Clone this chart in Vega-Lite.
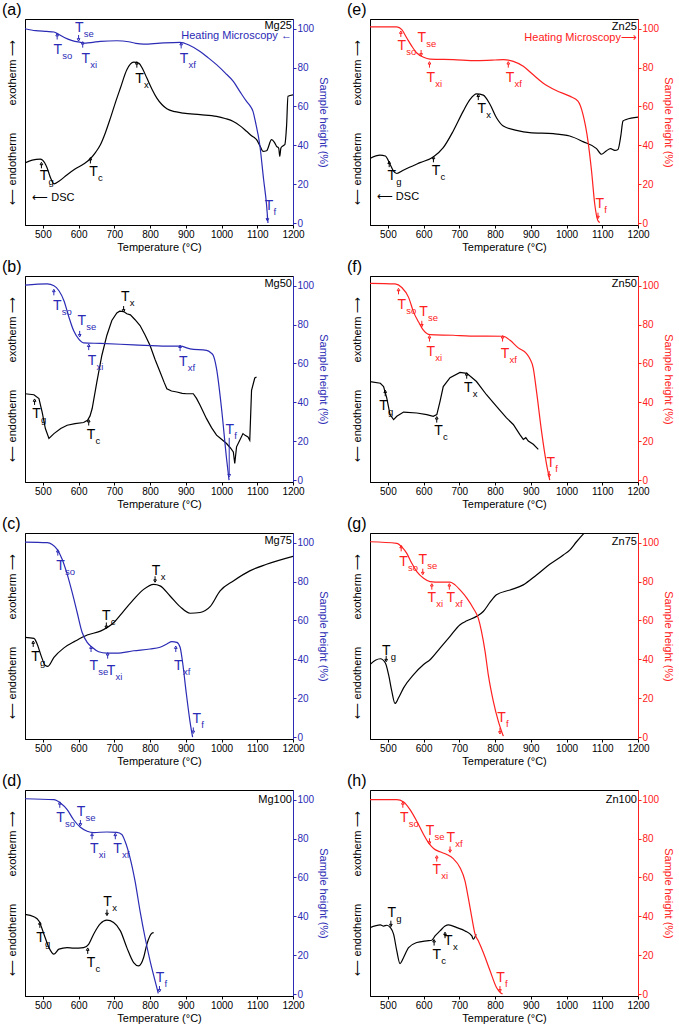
{
"$schema":"https://vega.github.io/schema/vega-lite/v6.json",
"background":"white",
"padding":{"left":1,"top":1,"right":0,"bottom":0},
"columns":2,
"spacing":{"row":5,"column":16},
"resolve":{"scale":{"color":"independent","shape":"independent"}},
"config":{
 "font":"Liberation Sans",
 "numberFormat":"d",
 "view":{"stroke":"black","strokeWidth":1},
 "axis":{"grid":false,"labelFont":"Liberation Sans","titleFont":"Liberation Sans","labelFontSize":10,"titleFontSize":11,"titleFontWeight":"normal","tickSize":3,"domainColor":"black","tickColor":"black","labelColor":"black","titleColor":"black","labelPadding":1,"labelOverlap":false,"labelFlush":false},
 "title":{"font":"Liberation Sans","color":"black"},
 "text":{"font":"Liberation Sans"}
},
"datasets":{
"curves":[
{"p":"a","s":"DSC","t":450,"v":30.9},{"p":"a","s":"DSC","t":470,"v":32.4},{"p":"a","s":"DSC","t":493,"v":32.9},{"p":"a","s":"DSC","t":505,"v":31},{"p":"a","s":"DSC","t":512,"v":28.3},{"p":"a","s":"DSC","t":522,"v":23},{"p":"a","s":"DSC","t":531,"v":20.2},{"p":"a","s":"DSC","t":545,"v":21.5},{"p":"a","s":"DSC","t":568,"v":24.9},{"p":"a","s":"DSC","t":590,"v":27.8},{"p":"a","s":"DSC","t":614,"v":30.4},{"p":"a","s":"DSC","t":633,"v":33.1},{"p":"a","s":"DSC","t":648,"v":36.5},{"p":"a","s":"DSC","t":661,"v":40.3},{"p":"a","s":"DSC","t":675,"v":46.5},{"p":"a","s":"DSC","t":689,"v":54},{"p":"a","s":"DSC","t":703,"v":62},{"p":"a","s":"DSC","t":717,"v":69.5},{"p":"a","s":"DSC","t":735,"v":78.9},{"p":"a","s":"DSC","t":754,"v":82.8},{"p":"a","s":"DSC","t":768,"v":82.3},{"p":"a","s":"DSC","t":780,"v":79},{"p":"a","s":"DSC","t":791,"v":74.6},{"p":"a","s":"DSC","t":805,"v":69},{"p":"a","s":"DSC","t":819,"v":64.3},{"p":"a","s":"DSC","t":833,"v":61},{"p":"a","s":"DSC","t":847,"v":58.8},{"p":"a","s":"DSC","t":870,"v":57.3},{"p":"a","s":"DSC","t":893,"v":56.6},{"p":"a","s":"DSC","t":940,"v":55.8},{"p":"a","s":"DSC","t":986,"v":54.9},{"p":"a","s":"DSC","t":1010,"v":53.8},{"p":"a","s":"DSC","t":1033,"v":52.3},{"p":"a","s":"DSC","t":1052,"v":50},{"p":"a","s":"DSC","t":1070,"v":47.2},{"p":"a","s":"DSC","t":1085,"v":44.8},{"p":"a","s":"DSC","t":1098,"v":42.9},{"p":"a","s":"DSC","t":1108,"v":39.5},{"p":"a","s":"DSC","t":1116,"v":36.9},{"p":"a","s":"DSC","t":1126,"v":37.2},{"p":"a","s":"DSC","t":1140,"v":42.9},{"p":"a","s":"DSC","t":1148,"v":41.5},{"p":"a","s":"DSC","t":1154,"v":39.5},{"p":"a","s":"DSC","t":1160,"v":38.5},{"p":"a","s":"DSC","t":1163,"v":34.3},{"p":"a","s":"DSC","t":1166,"v":38.5},{"p":"a","s":"DSC","t":1170,"v":39.5},{"p":"a","s":"DSC","t":1177,"v":40.3},{"p":"a","s":"DSC","t":1182,"v":50},{"p":"a","s":"DSC","t":1186,"v":65.2},{"p":"a","s":"DSC","t":1200,"v":66},
{"p":"a","s":"HM","t":450,"v":100},{"p":"a","s":"HM","t":480,"v":99},{"p":"a","s":"HM","t":510,"v":98.6},{"p":"a","s":"HM","t":531,"v":98.3},{"p":"a","s":"HM","t":545,"v":97},{"p":"a","s":"HM","t":560,"v":95.5},{"p":"a","s":"HM","t":580,"v":94},{"p":"a","s":"HM","t":605,"v":93},{"p":"a","s":"HM","t":620,"v":92.6},{"p":"a","s":"HM","t":640,"v":93},{"p":"a","s":"HM","t":661,"v":93.5},{"p":"a","s":"HM","t":707,"v":93.8},{"p":"a","s":"HM","t":740,"v":93.3},{"p":"a","s":"HM","t":760,"v":92.5},{"p":"a","s":"HM","t":782,"v":92.1},{"p":"a","s":"HM","t":828,"v":92.6},{"p":"a","s":"HM","t":884,"v":93},{"p":"a","s":"HM","t":910,"v":91.5},{"p":"a","s":"HM","t":940,"v":88.3},{"p":"a","s":"HM","t":963,"v":85},{"p":"a","s":"HM","t":986,"v":81.5},{"p":"a","s":"HM","t":1010,"v":77.3},{"p":"a","s":"HM","t":1033,"v":72.9},{"p":"a","s":"HM","t":1052,"v":67.5},{"p":"a","s":"HM","t":1070,"v":62.6},{"p":"a","s":"HM","t":1080,"v":60.3},{"p":"a","s":"HM","t":1088,"v":57.5},{"p":"a","s":"HM","t":1095,"v":52},{"p":"a","s":"HM","t":1107,"v":40.3},{"p":"a","s":"HM","t":1118,"v":22},{"p":"a","s":"HM","t":1126,"v":9.4},{"p":"a","s":"HM","t":1130,"v":0},
{"p":"e","s":"HM","t":450,"v":100.9},{"p":"e","s":"HM","t":525,"v":100.9},{"p":"e","s":"HM","t":539,"v":99.5},{"p":"e","s":"HM","t":553,"v":95.2},{"p":"e","s":"HM","t":567,"v":91},{"p":"e","s":"HM","t":581,"v":87.5},{"p":"e","s":"HM","t":600,"v":85.3},{"p":"e","s":"HM","t":618,"v":84.4},{"p":"e","s":"HM","t":683,"v":84.1},{"p":"e","s":"HM","t":748,"v":83.6},{"p":"e","s":"HM","t":800,"v":83.9},{"p":"e","s":"HM","t":823,"v":84.1},{"p":"e","s":"HM","t":851,"v":83.2},{"p":"e","s":"HM","t":879,"v":80.7},{"p":"e","s":"HM","t":906,"v":76.4},{"p":"e","s":"HM","t":934,"v":72.1},{"p":"e","s":"HM","t":971,"v":68.2},{"p":"e","s":"HM","t":1009,"v":65.3},{"p":"e","s":"HM","t":1032,"v":62.7},{"p":"e","s":"HM","t":1046,"v":55.9},{"p":"e","s":"HM","t":1060,"v":42.2},{"p":"e","s":"HM","t":1070,"v":26.8},{"p":"e","s":"HM","t":1079,"v":9.7},{"p":"e","s":"HM","t":1088,"v":1.2},{"p":"e","s":"HM","t":1093,"v":0.3},
{"p":"e","s":"DSC","t":450,"v":33.3},{"p":"e","s":"DSC","t":478,"v":35},{"p":"e","s":"DSC","t":493,"v":34.5},{"p":"e","s":"DSC","t":506,"v":30.3},{"p":"e","s":"DSC","t":515,"v":27},{"p":"e","s":"DSC","t":525,"v":25.5},{"p":"e","s":"DSC","t":543,"v":27.2},{"p":"e","s":"DSC","t":590,"v":31.1},{"p":"e","s":"DSC","t":627,"v":34},{"p":"e","s":"DSC","t":655,"v":38.8},{"p":"e","s":"DSC","t":683,"v":47.4},{"p":"e","s":"DSC","t":711,"v":57.6},{"p":"e","s":"DSC","t":730,"v":63.6},{"p":"e","s":"DSC","t":748,"v":66.5},{"p":"e","s":"DSC","t":767,"v":65.8},{"p":"e","s":"DSC","t":786,"v":61},{"p":"e","s":"DSC","t":804,"v":54.2},{"p":"e","s":"DSC","t":823,"v":49.9},{"p":"e","s":"DSC","t":860,"v":47.7},{"p":"e","s":"DSC","t":897,"v":46.5},{"p":"e","s":"DSC","t":963,"v":46},{"p":"e","s":"DSC","t":1009,"v":44.8},{"p":"e","s":"DSC","t":1046,"v":41.9},{"p":"e","s":"DSC","t":1084,"v":38.3},{"p":"e","s":"DSC","t":1098,"v":35.4},{"p":"e","s":"DSC","t":1111,"v":37.1},{"p":"e","s":"DSC","t":1123,"v":38.3},{"p":"e","s":"DSC","t":1135,"v":37.4},{"p":"e","s":"DSC","t":1144,"v":37.9},{"p":"e","s":"DSC","t":1152,"v":45},{"p":"e","s":"DSC","t":1158,"v":52.5},{"p":"e","s":"DSC","t":1167,"v":53.3},{"p":"e","s":"DSC","t":1200,"v":54.5},
{"p":"b","s":"HM","t":450,"v":100.3},{"p":"b","s":"HM","t":512,"v":100.9},{"p":"b","s":"HM","t":531,"v":100},{"p":"b","s":"HM","t":545,"v":97.4},{"p":"b","s":"HM","t":559,"v":92.3},{"p":"b","s":"HM","t":573,"v":83.8},{"p":"b","s":"HM","t":586,"v":76.9},{"p":"b","s":"HM","t":600,"v":72.6},{"p":"b","s":"HM","t":614,"v":70.6},{"p":"b","s":"HM","t":661,"v":70.3},{"p":"b","s":"HM","t":754,"v":69.6},{"p":"b","s":"HM","t":847,"v":68.9},{"p":"b","s":"HM","t":884,"v":68.9},{"p":"b","s":"HM","t":912,"v":67.5},{"p":"b","s":"HM","t":958,"v":66.7},{"p":"b","s":"HM","t":970,"v":65.5},{"p":"b","s":"HM","t":977,"v":64.1},{"p":"b","s":"HM","t":986,"v":57.3},{"p":"b","s":"HM","t":1000,"v":36.8},{"p":"b","s":"HM","t":1014,"v":11.1},{"p":"b","s":"HM","t":1021,"v":0},
{"p":"b","s":"DSC","t":450,"v":44.4},{"p":"b","s":"DSC","t":475,"v":43.9},{"p":"b","s":"DSC","t":489,"v":41.9},{"p":"b","s":"DSC","t":498,"v":35},{"p":"b","s":"DSC","t":507,"v":26.5},{"p":"b","s":"DSC","t":517,"v":21.4},{"p":"b","s":"DSC","t":531,"v":23.9},{"p":"b","s":"DSC","t":550,"v":26.5},{"p":"b","s":"DSC","t":568,"v":28.2},{"p":"b","s":"DSC","t":590,"v":29},{"p":"b","s":"DSC","t":614,"v":29.6},{"p":"b","s":"DSC","t":625,"v":30.8},{"p":"b","s":"DSC","t":632,"v":33},{"p":"b","s":"DSC","t":638,"v":36.8},{"p":"b","s":"DSC","t":651,"v":50.4},{"p":"b","s":"DSC","t":665,"v":64.1},{"p":"b","s":"DSC","t":679,"v":74.4},{"p":"b","s":"DSC","t":693,"v":82.1},{"p":"b","s":"DSC","t":707,"v":86},{"p":"b","s":"DSC","t":715,"v":86.9},{"p":"b","s":"DSC","t":726,"v":86.7},{"p":"b","s":"DSC","t":735,"v":85.6},{"p":"b","s":"DSC","t":745,"v":85},{"p":"b","s":"DSC","t":758,"v":82.5},{"p":"b","s":"DSC","t":772,"v":79.5},{"p":"b","s":"DSC","t":786,"v":74.6},{"p":"b","s":"DSC","t":800,"v":69.2},{"p":"b","s":"DSC","t":814,"v":62},{"p":"b","s":"DSC","t":828,"v":55.6},{"p":"b","s":"DSC","t":840,"v":50},{"p":"b","s":"DSC","t":847,"v":47},{"p":"b","s":"DSC","t":860,"v":45.8},{"p":"b","s":"DSC","t":875,"v":45.3},{"p":"b","s":"DSC","t":890,"v":44.6},{"p":"b","s":"DSC","t":902,"v":44.4},{"p":"b","s":"DSC","t":921,"v":44.4},{"p":"b","s":"DSC","t":930,"v":42},{"p":"b","s":"DSC","t":940,"v":38.5},{"p":"b","s":"DSC","t":958,"v":31.6},{"p":"b","s":"DSC","t":972,"v":27},{"p":"b","s":"DSC","t":986,"v":23.1},{"p":"b","s":"DSC","t":1000,"v":21},{"p":"b","s":"DSC","t":1014,"v":18.8},{"p":"b","s":"DSC","t":1025,"v":16.5},{"p":"b","s":"DSC","t":1033,"v":14.5},{"p":"b","s":"DSC","t":1037,"v":8.5},{"p":"b","s":"DSC","t":1042,"v":17.1},{"p":"b","s":"DSC","t":1051,"v":20.5},{"p":"b","s":"DSC","t":1060,"v":23.9},{"p":"b","s":"DSC","t":1066,"v":23},{"p":"b","s":"DSC","t":1074,"v":22.2},{"p":"b","s":"DSC","t":1079,"v":20.5},{"p":"b","s":"DSC","t":1084,"v":46.2},{"p":"b","s":"DSC","t":1093,"v":52.5},{"p":"b","s":"DSC","t":1098,"v":53},
{"p":"f","s":"HM","t":450,"v":101.2},{"p":"f","s":"HM","t":520,"v":100.9},{"p":"f","s":"HM","t":539,"v":99.1},{"p":"f","s":"HM","t":558,"v":94},{"p":"f","s":"HM","t":572,"v":86.4},{"p":"f","s":"HM","t":586,"v":81.3},{"p":"f","s":"HM","t":600,"v":77},{"p":"f","s":"HM","t":618,"v":74.8},{"p":"f","s":"HM","t":683,"v":74.5},{"p":"f","s":"HM","t":730,"v":74.1},{"p":"f","s":"HM","t":776,"v":74.1},{"p":"f","s":"HM","t":823,"v":74},{"p":"f","s":"HM","t":842,"v":71.9},{"p":"f","s":"HM","t":865,"v":68},{"p":"f","s":"HM","t":888,"v":65.1},{"p":"f","s":"HM","t":897,"v":62.6},{"p":"f","s":"HM","t":907,"v":57.5},{"p":"f","s":"HM","t":916,"v":45.6},{"p":"f","s":"HM","t":930,"v":25.2},{"p":"f","s":"HM","t":944,"v":8.2},{"p":"f","s":"HM","t":953,"v":0},
{"p":"f","s":"DSC","t":450,"v":50.7},{"p":"f","s":"DSC","t":479,"v":49.8},{"p":"f","s":"DSC","t":488,"v":48.1},{"p":"f","s":"DSC","t":497,"v":42.2},{"p":"f","s":"DSC","t":506,"v":33.7},{"p":"f","s":"DSC","t":516,"v":31.1},{"p":"f","s":"DSC","t":525,"v":32.8},{"p":"f","s":"DSC","t":544,"v":35},{"p":"f","s":"DSC","t":581,"v":34.5},{"p":"f","s":"DSC","t":609,"v":33.7},{"p":"f","s":"DSC","t":627,"v":32.8},{"p":"f","s":"DSC","t":637,"v":33.7},{"p":"f","s":"DSC","t":646,"v":40.5},{"p":"f","s":"DSC","t":655,"v":48.1},{"p":"f","s":"DSC","t":674,"v":52.7},{"p":"f","s":"DSC","t":702,"v":55.4},{"p":"f","s":"DSC","t":721,"v":54.9},{"p":"f","s":"DSC","t":748,"v":50.7},{"p":"f","s":"DSC","t":776,"v":43.9},{"p":"f","s":"DSC","t":804,"v":37.9},{"p":"f","s":"DSC","t":832,"v":32},{"p":"f","s":"DSC","t":851,"v":28.6},{"p":"f","s":"DSC","t":869,"v":23.5},{"p":"f","s":"DSC","t":879,"v":20.9},{"p":"f","s":"DSC","t":886,"v":21.8},{"p":"f","s":"DSC","t":893,"v":20.1},{"p":"f","s":"DSC","t":907,"v":18.4},{"p":"f","s":"DSC","t":921,"v":15.8},
{"p":"c","s":"HM","t":450,"v":100.3},{"p":"c","s":"HM","t":512,"v":100},{"p":"c","s":"HM","t":526,"v":99.1},{"p":"c","s":"HM","t":540,"v":96.6},{"p":"c","s":"HM","t":554,"v":91.5},{"p":"c","s":"HM","t":568,"v":83.8},{"p":"c","s":"HM","t":582,"v":74.4},{"p":"c","s":"HM","t":596,"v":64.1},{"p":"c","s":"HM","t":610,"v":53.8},{"p":"c","s":"HM","t":624,"v":48.7},{"p":"c","s":"HM","t":638,"v":46.2},{"p":"c","s":"HM","t":656,"v":43.9},{"p":"c","s":"HM","t":679,"v":43.2},{"p":"c","s":"HM","t":707,"v":43.2},{"p":"c","s":"HM","t":754,"v":44.4},{"p":"c","s":"HM","t":800,"v":45.3},{"p":"c","s":"HM","t":828,"v":46.2},{"p":"c","s":"HM","t":847,"v":47.9},{"p":"c","s":"HM","t":861,"v":49.1},{"p":"c","s":"HM","t":875,"v":48.7},{"p":"c","s":"HM","t":884,"v":46.2},{"p":"c","s":"HM","t":891,"v":38.5},{"p":"c","s":"HM","t":901,"v":23.1},{"p":"c","s":"HM","t":912,"v":7.7},{"p":"c","s":"HM","t":919,"v":0},
{"p":"c","s":"DSC","t":450,"v":51.3},{"p":"c","s":"DSC","t":475,"v":50.8},{"p":"c","s":"DSC","t":484,"v":47.9},{"p":"c","s":"DSC","t":495,"v":41.9},{"p":"c","s":"DSC","t":507,"v":36.8},{"p":"c","s":"DSC","t":514,"v":36.4},{"p":"c","s":"DSC","t":531,"v":41},{"p":"c","s":"DSC","t":559,"v":45.9},{"p":"c","s":"DSC","t":591,"v":49.4},{"p":"c","s":"DSC","t":624,"v":52.5},{"p":"c","s":"DSC","t":661,"v":54.5},{"p":"c","s":"DSC","t":698,"v":58.8},{"p":"c","s":"DSC","t":726,"v":64.8},{"p":"c","s":"DSC","t":754,"v":70.8},{"p":"c","s":"DSC","t":782,"v":76},{"p":"c","s":"DSC","t":810,"v":78.6},{"p":"c","s":"DSC","t":828,"v":77.8},{"p":"c","s":"DSC","t":856,"v":72.6},{"p":"c","s":"DSC","t":884,"v":67.1},{"p":"c","s":"DSC","t":912,"v":63.7},{"p":"c","s":"DSC","t":940,"v":64.1},{"p":"c","s":"DSC","t":968,"v":67.1},{"p":"c","s":"DSC","t":996,"v":75.2},{"p":"c","s":"DSC","t":1033,"v":80.3},{"p":"c","s":"DSC","t":1079,"v":85.5},{"p":"c","s":"DSC","t":1126,"v":88.9},{"p":"c","s":"DSC","t":1200,"v":93},
{"p":"g","s":"HM","t":450,"v":100.5},{"p":"g","s":"HM","t":525,"v":99.7},{"p":"g","s":"HM","t":539,"v":97.9},{"p":"g","s":"HM","t":553,"v":94.5},{"p":"g","s":"HM","t":567,"v":89.4},{"p":"g","s":"HM","t":581,"v":85.1},{"p":"g","s":"HM","t":600,"v":81.7},{"p":"g","s":"HM","t":618,"v":80},{"p":"g","s":"HM","t":646,"v":79.7},{"p":"g","s":"HM","t":674,"v":79.7},{"p":"g","s":"HM","t":688,"v":78.3},{"p":"g","s":"HM","t":702,"v":75.7},{"p":"g","s":"HM","t":721,"v":71.5},{"p":"g","s":"HM","t":739,"v":66.3},{"p":"g","s":"HM","t":753,"v":61.2},{"p":"g","s":"HM","t":762,"v":54.4},{"p":"g","s":"HM","t":772,"v":44.1},{"p":"g","s":"HM","t":781,"v":32.1},{"p":"g","s":"HM","t":795,"v":18.5},{"p":"g","s":"HM","t":809,"v":8.2},{"p":"g","s":"HM","t":823,"v":0.5},
{"p":"g","s":"DSC","t":450,"v":37.3},{"p":"g","s":"DSC","t":465,"v":39.5},{"p":"g","s":"DSC","t":479,"v":40.3},{"p":"g","s":"DSC","t":493,"v":38.1},{"p":"g","s":"DSC","t":502,"v":32.1},{"p":"g","s":"DSC","t":511,"v":23.6},{"p":"g","s":"DSC","t":520,"v":17.3},{"p":"g","s":"DSC","t":530,"v":20.2},{"p":"g","s":"DSC","t":544,"v":25.3},{"p":"g","s":"DSC","t":572,"v":32.1},{"p":"g","s":"DSC","t":600,"v":37.3},{"p":"g","s":"DSC","t":618,"v":39.8},{"p":"g","s":"DSC","t":646,"v":45.8},{"p":"g","s":"DSC","t":674,"v":51.8},{"p":"g","s":"DSC","t":702,"v":57.8},{"p":"g","s":"DSC","t":721,"v":59.8},{"p":"g","s":"DSC","t":748,"v":62.1},{"p":"g","s":"DSC","t":767,"v":64.6},{"p":"g","s":"DSC","t":786,"v":69.4},{"p":"g","s":"DSC","t":804,"v":73.2},{"p":"g","s":"DSC","t":842,"v":75.7},{"p":"g","s":"DSC","t":879,"v":78.3},{"p":"g","s":"DSC","t":916,"v":83.4},{"p":"g","s":"DSC","t":953,"v":88.9},{"p":"g","s":"DSC","t":991,"v":93.7},{"p":"g","s":"DSC","t":1009,"v":96.2},{"p":"g","s":"DSC","t":1028,"v":100.5},{"p":"g","s":"DSC","t":1046,"v":104.3},{"p":"g","s":"DSC","t":1060,"v":107},
{"p":"d","s":"HM","t":450,"v":100.5},{"p":"d","s":"HM","t":531,"v":100},{"p":"d","s":"HM","t":549,"v":98.3},{"p":"d","s":"HM","t":568,"v":94.9},{"p":"d","s":"HM","t":586,"v":89.7},{"p":"d","s":"HM","t":605,"v":85.8},{"p":"d","s":"HM","t":624,"v":83.8},{"p":"d","s":"HM","t":642,"v":83.1},{"p":"d","s":"HM","t":679,"v":83.4},{"p":"d","s":"HM","t":707,"v":83.2},{"p":"d","s":"HM","t":721,"v":82.1},{"p":"d","s":"HM","t":730,"v":78.6},{"p":"d","s":"HM","t":744,"v":70.1},{"p":"d","s":"HM","t":758,"v":58.1},{"p":"d","s":"HM","t":772,"v":42.7},{"p":"d","s":"HM","t":786,"v":29.1},{"p":"d","s":"HM","t":800,"v":17.1},{"p":"d","s":"HM","t":814,"v":6.8},{"p":"d","s":"HM","t":823,"v":0.3},
{"p":"d","s":"DSC","t":450,"v":41},{"p":"d","s":"DSC","t":475,"v":39.8},{"p":"d","s":"DSC","t":489,"v":37.6},{"p":"d","s":"DSC","t":503,"v":30.8},{"p":"d","s":"DSC","t":517,"v":23.9},{"p":"d","s":"DSC","t":531,"v":20.5},{"p":"d","s":"DSC","t":545,"v":23.1},{"p":"d","s":"DSC","t":568,"v":23.9},{"p":"d","s":"DSC","t":586,"v":23.6},{"p":"d","s":"DSC","t":614,"v":23.9},{"p":"d","s":"DSC","t":628,"v":25.6},{"p":"d","s":"DSC","t":642,"v":30.8},{"p":"d","s":"DSC","t":661,"v":36.2},{"p":"d","s":"DSC","t":679,"v":38},{"p":"d","s":"DSC","t":698,"v":36.8},{"p":"d","s":"DSC","t":717,"v":32.5},{"p":"d","s":"DSC","t":735,"v":23.9},{"p":"d","s":"DSC","t":754,"v":16.2},{"p":"d","s":"DSC","t":768,"v":14.5},{"p":"d","s":"DSC","t":782,"v":18.8},{"p":"d","s":"DSC","t":791,"v":25.6},{"p":"d","s":"DSC","t":805,"v":31.3},{"p":"d","s":"DSC","t":810,"v":31.6},
{"p":"h","s":"HM","t":450,"v":100},{"p":"h","s":"HM","t":525,"v":100},{"p":"h","s":"HM","t":544,"v":98.8},{"p":"h","s":"HM","t":562,"v":94.9},{"p":"h","s":"HM","t":581,"v":88.9},{"p":"h","s":"HM","t":600,"v":82.1},{"p":"h","s":"HM","t":614,"v":77.8},{"p":"h","s":"HM","t":628,"v":74.9},{"p":"h","s":"HM","t":646,"v":73.2},{"p":"h","s":"HM","t":665,"v":71.8},{"p":"h","s":"HM","t":683,"v":69.7},{"p":"h","s":"HM","t":702,"v":65},{"p":"h","s":"HM","t":716,"v":58.1},{"p":"h","s":"HM","t":725,"v":49.6},{"p":"h","s":"HM","t":735,"v":39.3},{"p":"h","s":"HM","t":744,"v":30.8},{"p":"h","s":"HM","t":753,"v":27.4},{"p":"h","s":"HM","t":767,"v":21.4},{"p":"h","s":"HM","t":786,"v":12},{"p":"h","s":"HM","t":804,"v":3.4},{"p":"h","s":"HM","t":814,"v":0.9},{"p":"h","s":"HM","t":821,"v":0},
{"p":"h","s":"DSC","t":450,"v":34.2},{"p":"h","s":"DSC","t":479,"v":35.6},{"p":"h","s":"DSC","t":488,"v":35},{"p":"h","s":"DSC","t":497,"v":35.4},{"p":"h","s":"DSC","t":507,"v":34.2},{"p":"h","s":"DSC","t":516,"v":30.8},{"p":"h","s":"DSC","t":525,"v":22.2},{"p":"h","s":"DSC","t":534,"v":15.7},{"p":"h","s":"DSC","t":544,"v":18.8},{"p":"h","s":"DSC","t":558,"v":23.9},{"p":"h","s":"DSC","t":581,"v":26.5},{"p":"h","s":"DSC","t":609,"v":27.4},{"p":"h","s":"DSC","t":623,"v":27.7},{"p":"h","s":"DSC","t":632,"v":29.9},{"p":"h","s":"DSC","t":646,"v":32.5},{"p":"h","s":"DSC","t":660,"v":35},{"p":"h","s":"DSC","t":670,"v":35.6},{"p":"h","s":"DSC","t":693,"v":34.2},{"p":"h","s":"DSC","t":716,"v":32.5},{"p":"h","s":"DSC","t":735,"v":29.9},{"p":"h","s":"DSC","t":739,"v":28.2},{"p":"h","s":"DSC","t":747,"v":30.8}
],
"notes":[
{"p":"a","s":"HM","k":"arrow","d":"up","t":540,"v":96},{"p":"a","s":"HM","k":"lab","sub":"so","t":542,"v":88.8},
{"p":"a","s":"HM","k":"arrow","d":"down","t":600,"v":95.2},{"p":"a","s":"HM","k":"lab","sub":"se","t":602,"v":100.3},
{"p":"a","s":"HM","k":"arrow","d":"up","t":611.5,"v":91.8},{"p":"a","s":"HM","k":"lab","sub":"xi","t":620,"v":84.4},
{"p":"a","s":"HM","k":"arrow","d":"up","t":887,"v":91.4},{"p":"a","s":"HM","k":"lab","sub":"xf","t":895,"v":84.4},
{"p":"a","s":"HM","k":"arrow","d":"down","t":1128.4,"v":2.6},{"p":"a","s":"HM","k":"lab","sub":"f","t":1133,"v":8.6},
{"p":"a","s":"DSC","k":"arrow","d":"up","t":763,"v":81.5},{"p":"a","s":"DSC","k":"lab","sub":"x","t":770.5,"v":74.3},
{"p":"a","s":"DSC","k":"arrow","d":"up","t":496,"v":29.7},{"p":"a","s":"DSC","k":"lab","sub":"g","t":503,"v":24.4},
{"p":"a","s":"DSC","k":"arrow","d":"up","t":633,"v":32.2},{"p":"a","s":"DSC","k":"lab","sub":"c","t":642,"v":26.1},
{"p":"a","s":"label","k":"right","t":1197,"v":101.2,"txt":"Mg25"},
{"p":"a","s":"HM","k":"right","t":1197,"v":96,"txt":"Heating Microscopy ←"},
{"p":"a","s":"DSC","k":"left","t":470,"v":12.9,"txt":"⟵ DSC"},
{"p":"e","s":"HM","k":"arrow","d":"up","t":536.3,"v":97.3},{"p":"e","s":"HM","k":"lab","sub":"so","t":539,"v":90.9},
{"p":"e","s":"HM","k":"arrow","d":"down","t":593,"v":87.5},{"p":"e","s":"HM","k":"lab","sub":"se","t":595,"v":95.2},
{"p":"e","s":"HM","k":"arrow","d":"up","t":616.4,"v":81.5},{"p":"e","s":"HM","k":"lab","sub":"xi","t":620,"v":74.7},
{"p":"e","s":"HM","k":"arrow","d":"up","t":837,"v":81.5},{"p":"e","s":"HM","k":"lab","sub":"xf","t":841.6,"v":74.7},
{"p":"e","s":"HM","k":"arrow","d":"down","t":1088,"v":3.8},{"p":"e","s":"HM","k":"lab","sub":"f","t":1093,"v":9.7},
{"p":"e","s":"DSC","k":"arrow","d":"up","t":753,"v":64.8},{"p":"e","s":"DSC","k":"lab","sub":"x","t":762.5,"v":58.5},
{"p":"e","s":"DSC","k":"arrow","d":"up","t":503.7,"v":30.3},{"p":"e","s":"DSC","k":"lab","sub":"g","t":511,"v":24.3},
{"p":"e","s":"DSC","k":"arrow","d":"up","t":627.5,"v":32.8},{"p":"e","s":"DSC","k":"lab","sub":"c","t":635,"v":26.8},
{"p":"e","s":"label","k":"right","t":1197,"v":100.7,"txt":"Zn25"},
{"p":"e","s":"HM","k":"right","t":1197,"v":95.2,"txt":"Heating Microscopy⟶"},
{"p":"e","s":"DSC","k":"left","t":469,"v":13.2,"txt":"⟵ DSC"},
{"p":"b","s":"HM","k":"arrow","d":"up","t":530.7,"v":96.6},{"p":"b","s":"HM","k":"lab","sub":"so","t":540,"v":89.7},
{"p":"b","s":"HM","k":"arrow","d":"down","t":603,"v":75.2},{"p":"b","s":"HM","k":"lab","sub":"se","t":608.8,"v":82},
{"p":"b","s":"HM","k":"arrow","d":"up","t":628.3,"v":68.4},{"p":"b","s":"HM","k":"lab","sub":"xi","t":637.6,"v":61.5},
{"p":"b","s":"HM","k":"arrow","d":"up","t":884,"v":67.9},{"p":"b","s":"HM","k":"lab","sub":"xf","t":893,"v":60.7},
{"p":"b","s":"HM","k":"arrow","d":"downlong","t":1021.5,"v":3.2},{"p":"b","s":"HM","k":"lab","sub":"f","t":1023,"v":25.6},
{"p":"b","s":"DSC","k":"arrow","d":"down","t":726,"v":88},{"p":"b","s":"DSC","k":"lab","sub":"x","t":730.5,"v":94},
{"p":"b","s":"DSC","k":"arrow","d":"up","t":476.8,"v":40.2},{"p":"b","s":"DSC","k":"lab","sub":"g","t":482.3,"v":34.2},
{"p":"b","s":"DSC","k":"arrow","d":"up","t":628.3,"v":29.6},{"p":"b","s":"DSC","k":"lab","sub":"c","t":634.8,"v":23.1},
{"p":"b","s":"label","k":"right","t":1197,"v":100.9,"txt":"Mg50"},
{"p":"f","s":"HM","k":"arrow","d":"up","t":529.8,"v":97.1},{"p":"f","s":"HM","k":"lab","sub":"so","t":539,"v":90.3},
{"p":"f","s":"HM","k":"arrow","d":"down","t":595,"v":80.4},{"p":"f","s":"HM","k":"lab","sub":"se","t":599.6,"v":86.4},
{"p":"f","s":"HM","k":"arrow","d":"up","t":616.4,"v":72.8},{"p":"f","s":"HM","k":"lab","sub":"xi","t":620,"v":66},
{"p":"f","s":"HM","k":"arrow","d":"up","t":821,"v":72.8},{"p":"f","s":"HM","k":"lab","sub":"xf","t":827.7,"v":65.1},
{"p":"f","s":"HM","k":"arrow","d":"down","t":951.5,"v":3.1},{"p":"f","s":"HM","k":"lab","sub":"f","t":956,"v":9},
{"p":"f","s":"DSC","k":"arrow","d":"up","t":720.6,"v":53.7},{"p":"f","s":"DSC","k":"lab","sub":"x","t":725,"v":47.3},
{"p":"f","s":"DSC","k":"arrow","d":"up","t":492.6,"v":44.7},{"p":"f","s":"DSC","k":"lab","sub":"g","t":488,"v":37.9},
{"p":"f","s":"DSC","k":"arrow","d":"up","t":636.8,"v":31.1},{"p":"f","s":"DSC","k":"lab","sub":"c","t":641.5,"v":25.2},
{"p":"f","s":"label","k":"right","t":1197,"v":100.8,"txt":"Zn50"},
{"p":"c","s":"HM","k":"arrow","d":"up","t":541.8,"v":94.9},{"p":"c","s":"HM","k":"lab","sub":"so","t":549.3,"v":88},
{"p":"c","s":"HM","k":"arrow","d":"up","t":634.8,"v":45.3},{"p":"c","s":"HM","k":"lab","sub":"se","t":642.2,"v":36.8},
{"p":"c","s":"HM","k":"arrow","d":"up","t":681.3,"v":41.9},{"p":"c","s":"HM","k":"lab","sub":"xi","t":690.6,"v":34.2},
{"p":"c","s":"HM","k":"arrow","d":"up","t":872,"v":45.3},{"p":"c","s":"HM","k":"lab","sub":"xf","t":879.3,"v":36.8},
{"p":"c","s":"HM","k":"arrow","d":"down","t":921,"v":3.4},{"p":"c","s":"HM","k":"lab","sub":"f","t":930.4,"v":9.4},
{"p":"c","s":"DSC","k":"arrow","d":"down","t":814,"v":81.2},{"p":"c","s":"DSC","k":"lab","sub":"x","t":817,"v":85.5},
{"p":"c","s":"DSC","k":"arrow","d":"down","t":677.6,"v":57.4},{"p":"c","s":"DSC","k":"lab","sub":"c","t":677.6,"v":62.5},
{"p":"c","s":"DSC","k":"arrow","d":"up","t":473,"v":47.9},{"p":"c","s":"DSC","k":"lab","sub":"g","t":479.5,"v":41},
{"p":"c","s":"label","k":"right","t":1197,"v":100.9,"txt":"Mg75"},
{"p":"g","s":"HM","k":"arrow","d":"up","t":537.2,"v":97.1},{"p":"g","s":"HM","k":"lab","sub":"so","t":543.7,"v":90.3},
{"p":"g","s":"HM","k":"arrow","d":"down","t":597.7,"v":85.1},{"p":"g","s":"HM","k":"lab","sub":"se","t":597.7,"v":91.1},
{"p":"g","s":"HM","k":"arrow","d":"up","t":623,"v":77.4},{"p":"g","s":"HM","k":"lab","sub":"xi","t":623,"v":71.5},
{"p":"g","s":"HM","k":"arrow","d":"up","t":672,"v":77.4},{"p":"g","s":"HM","k":"lab","sub":"xf","t":676,"v":71.5},
{"p":"g","s":"HM","k":"arrow","d":"down","t":813.7,"v":3.1},{"p":"g","s":"HM","k":"lab","sub":"f","t":818.3,"v":9.6},
{"p":"g","s":"DSC","k":"arrow","d":"down","t":495.3,"v":40.3},{"p":"g","s":"DSC","k":"lab","sub":"g","t":495.3,"v":44.4},
{"p":"g","s":"label","k":"right","t":1197,"v":100.5,"txt":"Zn75"},
{"p":"d","s":"HM","k":"arrow","d":"up","t":547.4,"v":97.4},{"p":"d","s":"HM","k":"lab","sub":"so","t":549.3,"v":90.6},
{"p":"d","s":"HM","k":"arrow","d":"down","t":605,"v":88},{"p":"d","s":"HM","k":"lab","sub":"se","t":607,"v":93.5},
{"p":"d","s":"HM","k":"arrow","d":"up","t":637.6,"v":81.2},{"p":"d","s":"HM","k":"lab","sub":"xi","t":644,"v":74.4},
{"p":"d","s":"HM","k":"arrow","d":"up","t":702.7,"v":81.2},{"p":"d","s":"HM","k":"lab","sub":"xf","t":709,"v":74.4},
{"p":"d","s":"HM","k":"arrow","d":"down","t":826.3,"v":2.6},{"p":"d","s":"HM","k":"lab","sub":"f","t":828,"v":8.5},
{"p":"d","s":"DSC","k":"arrow","d":"down","t":679.4,"v":41.9},{"p":"d","s":"DSC","k":"lab","sub":"x","t":681.3,"v":47.5},
{"p":"d","s":"DSC","k":"arrow","d":"up","t":491.6,"v":35.6},{"p":"d","s":"DSC","k":"lab","sub":"g","t":493.5,"v":29},
{"p":"d","s":"DSC","k":"arrow","d":"up","t":625.5,"v":22.2},{"p":"d","s":"DSC","k":"lab","sub":"c","t":634.8,"v":16.2},
{"p":"d","s":"label","k":"right","t":1197,"v":100,"txt":"Mg100"},
{"p":"h","s":"HM","k":"arrow","d":"up","t":541.9,"v":97.4},{"p":"h","s":"HM","k":"lab","sub":"so","t":545.6,"v":90.6},
{"p":"h","s":"HM","k":"arrow","d":"down","t":616.4,"v":78.6},{"p":"h","s":"HM","k":"lab","sub":"se","t":618.2,"v":83.8},
{"p":"h","s":"HM","k":"arrow","d":"up","t":636.8,"v":69.7},{"p":"h","s":"HM","k":"lab","sub":"xi","t":636.8,"v":63.6},
{"p":"h","s":"HM","k":"arrow","d":"down","t":674,"v":74.4},{"p":"h","s":"HM","k":"lab","sub":"xf","t":676,"v":80.3},
{"p":"h","s":"HM","k":"arrow","d":"down","t":813.7,"v":2.6},{"p":"h","s":"HM","k":"lab","sub":"f","t":815.5,"v":8.5},
{"p":"h","s":"DSC","k":"arrow","d":"down","t":508.4,"v":36.2},{"p":"h","s":"DSC","k":"lab","sub":"g","t":511,"v":41.9},
{"p":"h","s":"DSC","k":"arrow","d":"up","t":629.4,"v":26.5},{"p":"h","s":"DSC","k":"lab","sub":"c","t":636.8,"v":20},
{"p":"h","s":"DSC","k":"arrow","d":"up","t":660,"v":30.3},{"p":"h","s":"DSC","k":"lab","sub":"x","t":669.4,"v":27.4},
{"p":"h","s":"label","k":"right","t":1197,"v":100,"txt":"Zn100"}
]
},
"concat":[
{"title":{"text":"(a)","anchor":"start","frame":"bounds","fontSize":16,"fontWeight":"normal","offset":1,"dx":-4},"width":268,"height":206,
 "encoding":{"x":{"field":"t","type":"quantitative","scale":{"domain":[450,1200],"nice":false},"axis":{"values":[500,600,700,800,900,1000,1100,1200],"title":"Temperature (°C)","titlePadding":2}}},
 "layer":[
  {"data":{"name":"curves"},"transform":[{"filter":"datum.p=='a'&&datum.s=='DSC'"}],"mark":{"type":"line","color":"black","strokeWidth":1.2,"clip":true,"interpolate":"monotone"},"encoding":{"y":{"field":"v","type":"quantitative","scale":{"domain":[-1,105],"nice":false,"zero":false},"axis":{"orient":"left","labels":false,"ticks":false,"titlePadding":8,"title":"⟵ endotherm\u00a0\u00a0\u00a0\u00a0\u00a0\u00a0\u00a0\u00a0\u00a0exotherm ⟶\u00a0\u00a0\u00a0\u00a0\u00a0\u00a0"}}}},
  {"data":{"name":"curves"},"transform":[{"filter":"datum.p=='a'&&datum.s=='HM'"}],"mark":{"type":"line","color":"#2b2bb5","strokeWidth":1.2,"clip":true,"interpolate":"monotone"},"encoding":{"y":{"field":"v","type":"quantitative","scale":{"domain":[-1,105],"nice":false,"zero":false},"axis":{"orient":"right","values":[0,20,40,60,80,100],"title":"Sample height (%)","domainColor":"#2b2bb5","tickColor":"#2b2bb5","labelColor":"#2b2bb5","titleColor":"#2b2bb5","titlePadding":4}}}},
  {"data":{"name":"notes"},"transform":[{"filter":"datum.p=='a'&&datum.k=='arrow'"}],"mark":{"type":"point","filled":false,"size":36,"strokeWidth":1,"opacity":1},"encoding":{"y":{"field":"v","type":"quantitative","scale":{"domain":[-1,105],"nice":false,"zero":false},"axis":null},"color":{"field":"s","type":"nominal","scale":{"domain":["DSC","HM","label"],"range":["black","#2b2bb5","black"]},"legend":null},"shape":{"field":"d","type":"nominal","scale":{"domain":["up","down","downlong"],"range":["M0,1L0,-0.3M-0.45,-0.2L0,-1L0.45,-0.2Z","M0,-1L0,0.3M-0.45,0.2L0,1L0.45,0.2Z","M0,-12L0,0.3M-0.45,0.2L0,1L0.45,0.2Z"]},"legend":null}}},
  {"data":{"name":"notes"},"transform":[{"filter":"datum.p=='a'&&datum.k=='lab'"}],"mark":{"type":"text","text":"T","fontSize":14,"align":"center","baseline":"middle"},"encoding":{"y":{"field":"v","type":"quantitative","scale":{"domain":[-1,105],"nice":false,"zero":false},"axis":null},"color":{"field":"s","type":"nominal","scale":{"domain":["DSC","HM","label"],"range":["black","#2b2bb5","black"]},"legend":null}}},
  {"data":{"name":"notes"},"transform":[{"filter":"datum.p=='a'&&datum.k=='lab'"}],"mark":{"type":"text","fontSize":9.5,"align":"left","baseline":"middle","dx":4.5,"dy":6},"encoding":{"y":{"field":"v","type":"quantitative","scale":{"domain":[-1,105],"nice":false,"zero":false},"axis":null},"text":{"field":"sub"},"color":{"field":"s","type":"nominal","scale":{"domain":["DSC","HM","label"],"range":["black","#2b2bb5","black"]},"legend":null}}},
  {"data":{"name":"notes"},"transform":[{"filter":"datum.p=='a'&&datum.k=='right'"}],"mark":{"type":"text","fontSize":11,"align":"right","baseline":"middle"},"encoding":{"y":{"field":"v","type":"quantitative","scale":{"domain":[-1,105],"nice":false,"zero":false},"axis":null},"text":{"field":"txt"},"color":{"field":"s","type":"nominal","scale":{"domain":["DSC","HM","label"],"range":["black","#2b2bb5","black"]},"legend":null}}},
  {"data":{"name":"notes"},"transform":[{"filter":"datum.p=='a'&&datum.k=='left'"}],"mark":{"type":"text","fontSize":11,"align":"left","baseline":"middle"},"encoding":{"y":{"field":"v","type":"quantitative","scale":{"domain":[-1,105],"nice":false,"zero":false},"axis":null},"text":{"field":"txt"},"color":{"field":"s","type":"nominal","scale":{"domain":["DSC","HM","label"],"range":["black","#2b2bb5","black"]},"legend":null}}}
 ],
 "resolve":{"axis":{"y":"independent"}}},
{"title":{"text":"(e)","anchor":"start","frame":"bounds","fontSize":16,"fontWeight":"normal","offset":1,"dx":-4},"width":268,"height":206,
 "encoding":{"x":{"field":"t","type":"quantitative","scale":{"domain":[450,1200],"nice":false},"axis":{"values":[500,600,700,800,900,1000,1100,1200],"title":"Temperature (°C)","titlePadding":2}}},
 "layer":[
  {"data":{"name":"curves"},"transform":[{"filter":"datum.p=='e'&&datum.s=='DSC'"}],"mark":{"type":"line","color":"black","strokeWidth":1.2,"clip":true,"interpolate":"monotone"},"encoding":{"y":{"field":"v","type":"quantitative","scale":{"domain":[-1,105],"nice":false,"zero":false},"axis":{"orient":"left","labels":false,"ticks":false,"titlePadding":8,"title":"⟵ endotherm\u00a0\u00a0\u00a0\u00a0\u00a0\u00a0\u00a0\u00a0\u00a0exotherm ⟶\u00a0\u00a0\u00a0\u00a0\u00a0\u00a0"}}}},
  {"data":{"name":"curves"},"transform":[{"filter":"datum.p=='e'&&datum.s=='HM'"}],"mark":{"type":"line","color":"#ff2020","strokeWidth":1.2,"clip":true,"interpolate":"monotone"},"encoding":{"y":{"field":"v","type":"quantitative","scale":{"domain":[-1,105],"nice":false,"zero":false},"axis":{"orient":"right","values":[0,20,40,60,80,100],"title":"Sample height (%)","domainColor":"#ff2020","tickColor":"#ff2020","labelColor":"#ff2020","titleColor":"#ff2020","titlePadding":4}}}},
  {"data":{"name":"notes"},"transform":[{"filter":"datum.p=='e'&&datum.k=='arrow'"}],"mark":{"type":"point","filled":false,"size":36,"strokeWidth":1,"opacity":1},"encoding":{"y":{"field":"v","type":"quantitative","scale":{"domain":[-1,105],"nice":false,"zero":false},"axis":null},"color":{"field":"s","type":"nominal","scale":{"domain":["DSC","HM","label"],"range":["black","#ff2020","black"]},"legend":null},"shape":{"field":"d","type":"nominal","scale":{"domain":["up","down","downlong"],"range":["M0,1L0,-0.3M-0.45,-0.2L0,-1L0.45,-0.2Z","M0,-1L0,0.3M-0.45,0.2L0,1L0.45,0.2Z","M0,-12L0,0.3M-0.45,0.2L0,1L0.45,0.2Z"]},"legend":null}}},
  {"data":{"name":"notes"},"transform":[{"filter":"datum.p=='e'&&datum.k=='lab'"}],"mark":{"type":"text","text":"T","fontSize":14,"align":"center","baseline":"middle"},"encoding":{"y":{"field":"v","type":"quantitative","scale":{"domain":[-1,105],"nice":false,"zero":false},"axis":null},"color":{"field":"s","type":"nominal","scale":{"domain":["DSC","HM","label"],"range":["black","#ff2020","black"]},"legend":null}}},
  {"data":{"name":"notes"},"transform":[{"filter":"datum.p=='e'&&datum.k=='lab'"}],"mark":{"type":"text","fontSize":9.5,"align":"left","baseline":"middle","dx":4.5,"dy":6},"encoding":{"y":{"field":"v","type":"quantitative","scale":{"domain":[-1,105],"nice":false,"zero":false},"axis":null},"text":{"field":"sub"},"color":{"field":"s","type":"nominal","scale":{"domain":["DSC","HM","label"],"range":["black","#ff2020","black"]},"legend":null}}},
  {"data":{"name":"notes"},"transform":[{"filter":"datum.p=='e'&&datum.k=='right'"}],"mark":{"type":"text","fontSize":11,"align":"right","baseline":"middle"},"encoding":{"y":{"field":"v","type":"quantitative","scale":{"domain":[-1,105],"nice":false,"zero":false},"axis":null},"text":{"field":"txt"},"color":{"field":"s","type":"nominal","scale":{"domain":["DSC","HM","label"],"range":["black","#ff2020","black"]},"legend":null}}},
  {"data":{"name":"notes"},"transform":[{"filter":"datum.p=='e'&&datum.k=='left'"}],"mark":{"type":"text","fontSize":11,"align":"left","baseline":"middle"},"encoding":{"y":{"field":"v","type":"quantitative","scale":{"domain":[-1,105],"nice":false,"zero":false},"axis":null},"text":{"field":"txt"},"color":{"field":"s","type":"nominal","scale":{"domain":["DSC","HM","label"],"range":["black","#ff2020","black"]},"legend":null}}}
 ],
 "resolve":{"axis":{"y":"independent"}}},
{"title":{"text":"(b)","anchor":"start","frame":"bounds","fontSize":16,"fontWeight":"normal","offset":1,"dx":-4},"width":268,"height":206,
 "encoding":{"x":{"field":"t","type":"quantitative","scale":{"domain":[450,1200],"nice":false},"axis":{"values":[500,600,700,800,900,1000,1100,1200],"title":"Temperature (°C)","titlePadding":2}}},
 "layer":[
  {"data":{"name":"curves"},"transform":[{"filter":"datum.p=='b'&&datum.s=='DSC'"}],"mark":{"type":"line","color":"black","strokeWidth":1.2,"clip":true},"encoding":{"y":{"field":"v","type":"quantitative","scale":{"domain":[-1,105],"nice":false,"zero":false},"axis":{"orient":"left","labels":false,"ticks":false,"titlePadding":8,"title":"⟵ endotherm\u00a0\u00a0\u00a0\u00a0\u00a0\u00a0\u00a0\u00a0\u00a0exotherm ⟶\u00a0\u00a0\u00a0\u00a0\u00a0\u00a0"}}}},
  {"data":{"name":"curves"},"transform":[{"filter":"datum.p=='b'&&datum.s=='HM'"}],"mark":{"type":"line","color":"#2b2bb5","strokeWidth":1.2,"clip":true,"interpolate":"monotone"},"encoding":{"y":{"field":"v","type":"quantitative","scale":{"domain":[-1,105],"nice":false,"zero":false},"axis":{"orient":"right","values":[0,20,40,60,80,100],"title":"Sample height (%)","domainColor":"#2b2bb5","tickColor":"#2b2bb5","labelColor":"#2b2bb5","titleColor":"#2b2bb5","titlePadding":4}}}},
  {"data":{"name":"notes"},"transform":[{"filter":"datum.p=='b'&&datum.k=='arrow'"}],"mark":{"type":"point","filled":false,"size":36,"strokeWidth":1,"opacity":1},"encoding":{"y":{"field":"v","type":"quantitative","scale":{"domain":[-1,105],"nice":false,"zero":false},"axis":null},"color":{"field":"s","type":"nominal","scale":{"domain":["DSC","HM","label"],"range":["black","#2b2bb5","black"]},"legend":null},"shape":{"field":"d","type":"nominal","scale":{"domain":["up","down","downlong"],"range":["M0,1L0,-0.3M-0.45,-0.2L0,-1L0.45,-0.2Z","M0,-1L0,0.3M-0.45,0.2L0,1L0.45,0.2Z","M0,-12L0,0.3M-0.45,0.2L0,1L0.45,0.2Z"]},"legend":null}}},
  {"data":{"name":"notes"},"transform":[{"filter":"datum.p=='b'&&datum.k=='lab'"}],"mark":{"type":"text","text":"T","fontSize":14,"align":"center","baseline":"middle"},"encoding":{"y":{"field":"v","type":"quantitative","scale":{"domain":[-1,105],"nice":false,"zero":false},"axis":null},"color":{"field":"s","type":"nominal","scale":{"domain":["DSC","HM","label"],"range":["black","#2b2bb5","black"]},"legend":null}}},
  {"data":{"name":"notes"},"transform":[{"filter":"datum.p=='b'&&datum.k=='lab'"}],"mark":{"type":"text","fontSize":9.5,"align":"left","baseline":"middle","dx":4.5,"dy":6},"encoding":{"y":{"field":"v","type":"quantitative","scale":{"domain":[-1,105],"nice":false,"zero":false},"axis":null},"text":{"field":"sub"},"color":{"field":"s","type":"nominal","scale":{"domain":["DSC","HM","label"],"range":["black","#2b2bb5","black"]},"legend":null}}},
  {"data":{"name":"notes"},"transform":[{"filter":"datum.p=='b'&&datum.k=='right'"}],"mark":{"type":"text","fontSize":11,"align":"right","baseline":"middle"},"encoding":{"y":{"field":"v","type":"quantitative","scale":{"domain":[-1,105],"nice":false,"zero":false},"axis":null},"text":{"field":"txt"},"color":{"field":"s","type":"nominal","scale":{"domain":["DSC","HM","label"],"range":["black","#2b2bb5","black"]},"legend":null}}}
 ],
 "resolve":{"axis":{"y":"independent"}}},
{"title":{"text":"(f)","anchor":"start","frame":"bounds","fontSize":16,"fontWeight":"normal","offset":1,"dx":-4},"width":268,"height":206,
 "encoding":{"x":{"field":"t","type":"quantitative","scale":{"domain":[450,1200],"nice":false},"axis":{"values":[500,600,700,800,900,1000,1100,1200],"title":"Temperature (°C)","titlePadding":2}}},
 "layer":[
  {"data":{"name":"curves"},"transform":[{"filter":"datum.p=='f'&&datum.s=='DSC'"}],"mark":{"type":"line","color":"black","strokeWidth":1.2,"clip":true},"encoding":{"y":{"field":"v","type":"quantitative","scale":{"domain":[-1,105],"nice":false,"zero":false},"axis":{"orient":"left","labels":false,"ticks":false,"titlePadding":8,"title":"⟵ endotherm\u00a0\u00a0\u00a0\u00a0\u00a0\u00a0\u00a0\u00a0\u00a0exotherm ⟶\u00a0\u00a0\u00a0\u00a0\u00a0\u00a0"}}}},
  {"data":{"name":"curves"},"transform":[{"filter":"datum.p=='f'&&datum.s=='HM'"}],"mark":{"type":"line","color":"#ff2020","strokeWidth":1.2,"clip":true,"interpolate":"monotone"},"encoding":{"y":{"field":"v","type":"quantitative","scale":{"domain":[-1,105],"nice":false,"zero":false},"axis":{"orient":"right","values":[0,20,40,60,80,100],"title":"Sample height (%)","domainColor":"#ff2020","tickColor":"#ff2020","labelColor":"#ff2020","titleColor":"#ff2020","titlePadding":4}}}},
  {"data":{"name":"notes"},"transform":[{"filter":"datum.p=='f'&&datum.k=='arrow'"}],"mark":{"type":"point","filled":false,"size":36,"strokeWidth":1,"opacity":1},"encoding":{"y":{"field":"v","type":"quantitative","scale":{"domain":[-1,105],"nice":false,"zero":false},"axis":null},"color":{"field":"s","type":"nominal","scale":{"domain":["DSC","HM","label"],"range":["black","#ff2020","black"]},"legend":null},"shape":{"field":"d","type":"nominal","scale":{"domain":["up","down","downlong"],"range":["M0,1L0,-0.3M-0.45,-0.2L0,-1L0.45,-0.2Z","M0,-1L0,0.3M-0.45,0.2L0,1L0.45,0.2Z","M0,-12L0,0.3M-0.45,0.2L0,1L0.45,0.2Z"]},"legend":null}}},
  {"data":{"name":"notes"},"transform":[{"filter":"datum.p=='f'&&datum.k=='lab'"}],"mark":{"type":"text","text":"T","fontSize":14,"align":"center","baseline":"middle"},"encoding":{"y":{"field":"v","type":"quantitative","scale":{"domain":[-1,105],"nice":false,"zero":false},"axis":null},"color":{"field":"s","type":"nominal","scale":{"domain":["DSC","HM","label"],"range":["black","#ff2020","black"]},"legend":null}}},
  {"data":{"name":"notes"},"transform":[{"filter":"datum.p=='f'&&datum.k=='lab'"}],"mark":{"type":"text","fontSize":9.5,"align":"left","baseline":"middle","dx":4.5,"dy":6},"encoding":{"y":{"field":"v","type":"quantitative","scale":{"domain":[-1,105],"nice":false,"zero":false},"axis":null},"text":{"field":"sub"},"color":{"field":"s","type":"nominal","scale":{"domain":["DSC","HM","label"],"range":["black","#ff2020","black"]},"legend":null}}},
  {"data":{"name":"notes"},"transform":[{"filter":"datum.p=='f'&&datum.k=='right'"}],"mark":{"type":"text","fontSize":11,"align":"right","baseline":"middle"},"encoding":{"y":{"field":"v","type":"quantitative","scale":{"domain":[-1,105],"nice":false,"zero":false},"axis":null},"text":{"field":"txt"},"color":{"field":"s","type":"nominal","scale":{"domain":["DSC","HM","label"],"range":["black","#ff2020","black"]},"legend":null}}}
 ],
 "resolve":{"axis":{"y":"independent"}}},
{"title":{"text":"(c)","anchor":"start","frame":"bounds","fontSize":16,"fontWeight":"normal","offset":1,"dx":-4},"width":268,"height":206,
 "encoding":{"x":{"field":"t","type":"quantitative","scale":{"domain":[450,1200],"nice":false},"axis":{"values":[500,600,700,800,900,1000,1100,1200],"title":"Temperature (°C)","titlePadding":2}}},
 "layer":[
  {"data":{"name":"curves"},"transform":[{"filter":"datum.p=='c'&&datum.s=='DSC'"}],"mark":{"type":"line","color":"black","strokeWidth":1.2,"clip":true,"interpolate":"monotone"},"encoding":{"y":{"field":"v","type":"quantitative","scale":{"domain":[-1,105],"nice":false,"zero":false},"axis":{"orient":"left","labels":false,"ticks":false,"titlePadding":8,"title":"⟵ endotherm\u00a0\u00a0\u00a0\u00a0\u00a0\u00a0\u00a0\u00a0\u00a0exotherm ⟶\u00a0\u00a0\u00a0\u00a0\u00a0\u00a0"}}}},
  {"data":{"name":"curves"},"transform":[{"filter":"datum.p=='c'&&datum.s=='HM'"}],"mark":{"type":"line","color":"#2b2bb5","strokeWidth":1.2,"clip":true,"interpolate":"monotone"},"encoding":{"y":{"field":"v","type":"quantitative","scale":{"domain":[-1,105],"nice":false,"zero":false},"axis":{"orient":"right","values":[0,20,40,60,80,100],"title":"Sample height (%)","domainColor":"#2b2bb5","tickColor":"#2b2bb5","labelColor":"#2b2bb5","titleColor":"#2b2bb5","titlePadding":4}}}},
  {"data":{"name":"notes"},"transform":[{"filter":"datum.p=='c'&&datum.k=='arrow'"}],"mark":{"type":"point","filled":false,"size":36,"strokeWidth":1,"opacity":1},"encoding":{"y":{"field":"v","type":"quantitative","scale":{"domain":[-1,105],"nice":false,"zero":false},"axis":null},"color":{"field":"s","type":"nominal","scale":{"domain":["DSC","HM","label"],"range":["black","#2b2bb5","black"]},"legend":null},"shape":{"field":"d","type":"nominal","scale":{"domain":["up","down","downlong"],"range":["M0,1L0,-0.3M-0.45,-0.2L0,-1L0.45,-0.2Z","M0,-1L0,0.3M-0.45,0.2L0,1L0.45,0.2Z","M0,-12L0,0.3M-0.45,0.2L0,1L0.45,0.2Z"]},"legend":null}}},
  {"data":{"name":"notes"},"transform":[{"filter":"datum.p=='c'&&datum.k=='lab'"}],"mark":{"type":"text","text":"T","fontSize":14,"align":"center","baseline":"middle"},"encoding":{"y":{"field":"v","type":"quantitative","scale":{"domain":[-1,105],"nice":false,"zero":false},"axis":null},"color":{"field":"s","type":"nominal","scale":{"domain":["DSC","HM","label"],"range":["black","#2b2bb5","black"]},"legend":null}}},
  {"data":{"name":"notes"},"transform":[{"filter":"datum.p=='c'&&datum.k=='lab'"}],"mark":{"type":"text","fontSize":9.5,"align":"left","baseline":"middle","dx":4.5,"dy":6},"encoding":{"y":{"field":"v","type":"quantitative","scale":{"domain":[-1,105],"nice":false,"zero":false},"axis":null},"text":{"field":"sub"},"color":{"field":"s","type":"nominal","scale":{"domain":["DSC","HM","label"],"range":["black","#2b2bb5","black"]},"legend":null}}},
  {"data":{"name":"notes"},"transform":[{"filter":"datum.p=='c'&&datum.k=='right'"}],"mark":{"type":"text","fontSize":11,"align":"right","baseline":"middle"},"encoding":{"y":{"field":"v","type":"quantitative","scale":{"domain":[-1,105],"nice":false,"zero":false},"axis":null},"text":{"field":"txt"},"color":{"field":"s","type":"nominal","scale":{"domain":["DSC","HM","label"],"range":["black","#2b2bb5","black"]},"legend":null}}}
 ],
 "resolve":{"axis":{"y":"independent"}}},
{"title":{"text":"(g)","anchor":"start","frame":"bounds","fontSize":16,"fontWeight":"normal","offset":1,"dx":-4},"width":268,"height":206,
 "encoding":{"x":{"field":"t","type":"quantitative","scale":{"domain":[450,1200],"nice":false},"axis":{"values":[500,600,700,800,900,1000,1100,1200],"title":"Temperature (°C)","titlePadding":2}}},
 "layer":[
  {"data":{"name":"curves"},"transform":[{"filter":"datum.p=='g'&&datum.s=='DSC'"}],"mark":{"type":"line","color":"black","strokeWidth":1.2,"clip":true,"interpolate":"monotone"},"encoding":{"y":{"field":"v","type":"quantitative","scale":{"domain":[-1,105],"nice":false,"zero":false},"axis":{"orient":"left","labels":false,"ticks":false,"titlePadding":8,"title":"⟵ endotherm\u00a0\u00a0\u00a0\u00a0\u00a0\u00a0\u00a0\u00a0\u00a0exotherm ⟶\u00a0\u00a0\u00a0\u00a0\u00a0\u00a0"}}}},
  {"data":{"name":"curves"},"transform":[{"filter":"datum.p=='g'&&datum.s=='HM'"}],"mark":{"type":"line","color":"#ff2020","strokeWidth":1.2,"clip":true,"interpolate":"monotone"},"encoding":{"y":{"field":"v","type":"quantitative","scale":{"domain":[-1,105],"nice":false,"zero":false},"axis":{"orient":"right","values":[0,20,40,60,80,100],"title":"Sample height (%)","domainColor":"#ff2020","tickColor":"#ff2020","labelColor":"#ff2020","titleColor":"#ff2020","titlePadding":4}}}},
  {"data":{"name":"notes"},"transform":[{"filter":"datum.p=='g'&&datum.k=='arrow'"}],"mark":{"type":"point","filled":false,"size":36,"strokeWidth":1,"opacity":1},"encoding":{"y":{"field":"v","type":"quantitative","scale":{"domain":[-1,105],"nice":false,"zero":false},"axis":null},"color":{"field":"s","type":"nominal","scale":{"domain":["DSC","HM","label"],"range":["black","#ff2020","black"]},"legend":null},"shape":{"field":"d","type":"nominal","scale":{"domain":["up","down","downlong"],"range":["M0,1L0,-0.3M-0.45,-0.2L0,-1L0.45,-0.2Z","M0,-1L0,0.3M-0.45,0.2L0,1L0.45,0.2Z","M0,-12L0,0.3M-0.45,0.2L0,1L0.45,0.2Z"]},"legend":null}}},
  {"data":{"name":"notes"},"transform":[{"filter":"datum.p=='g'&&datum.k=='lab'"}],"mark":{"type":"text","text":"T","fontSize":14,"align":"center","baseline":"middle"},"encoding":{"y":{"field":"v","type":"quantitative","scale":{"domain":[-1,105],"nice":false,"zero":false},"axis":null},"color":{"field":"s","type":"nominal","scale":{"domain":["DSC","HM","label"],"range":["black","#ff2020","black"]},"legend":null}}},
  {"data":{"name":"notes"},"transform":[{"filter":"datum.p=='g'&&datum.k=='lab'"}],"mark":{"type":"text","fontSize":9.5,"align":"left","baseline":"middle","dx":4.5,"dy":6},"encoding":{"y":{"field":"v","type":"quantitative","scale":{"domain":[-1,105],"nice":false,"zero":false},"axis":null},"text":{"field":"sub"},"color":{"field":"s","type":"nominal","scale":{"domain":["DSC","HM","label"],"range":["black","#ff2020","black"]},"legend":null}}},
  {"data":{"name":"notes"},"transform":[{"filter":"datum.p=='g'&&datum.k=='right'"}],"mark":{"type":"text","fontSize":11,"align":"right","baseline":"middle"},"encoding":{"y":{"field":"v","type":"quantitative","scale":{"domain":[-1,105],"nice":false,"zero":false},"axis":null},"text":{"field":"txt"},"color":{"field":"s","type":"nominal","scale":{"domain":["DSC","HM","label"],"range":["black","#ff2020","black"]},"legend":null}}}
 ],
 "resolve":{"axis":{"y":"independent"}}},
{"title":{"text":"(d)","anchor":"start","frame":"bounds","fontSize":16,"fontWeight":"normal","offset":1,"dx":-4},"width":268,"height":206,
 "encoding":{"x":{"field":"t","type":"quantitative","scale":{"domain":[450,1200],"nice":false},"axis":{"values":[500,600,700,800,900,1000,1100,1200],"title":"Temperature (°C)","titlePadding":2}}},
 "layer":[
  {"data":{"name":"curves"},"transform":[{"filter":"datum.p=='d'&&datum.s=='DSC'"}],"mark":{"type":"line","color":"black","strokeWidth":1.2,"clip":true,"interpolate":"monotone"},"encoding":{"y":{"field":"v","type":"quantitative","scale":{"domain":[-1,105],"nice":false,"zero":false},"axis":{"orient":"left","labels":false,"ticks":false,"titlePadding":8,"title":"⟵ endotherm\u00a0\u00a0\u00a0\u00a0\u00a0\u00a0\u00a0\u00a0\u00a0exotherm ⟶\u00a0\u00a0\u00a0\u00a0\u00a0\u00a0"}}}},
  {"data":{"name":"curves"},"transform":[{"filter":"datum.p=='d'&&datum.s=='HM'"}],"mark":{"type":"line","color":"#2b2bb5","strokeWidth":1.2,"clip":true,"interpolate":"monotone"},"encoding":{"y":{"field":"v","type":"quantitative","scale":{"domain":[-1,105],"nice":false,"zero":false},"axis":{"orient":"right","values":[0,20,40,60,80,100],"title":"Sample height (%)","domainColor":"#2b2bb5","tickColor":"#2b2bb5","labelColor":"#2b2bb5","titleColor":"#2b2bb5","titlePadding":4}}}},
  {"data":{"name":"notes"},"transform":[{"filter":"datum.p=='d'&&datum.k=='arrow'"}],"mark":{"type":"point","filled":false,"size":36,"strokeWidth":1,"opacity":1},"encoding":{"y":{"field":"v","type":"quantitative","scale":{"domain":[-1,105],"nice":false,"zero":false},"axis":null},"color":{"field":"s","type":"nominal","scale":{"domain":["DSC","HM","label"],"range":["black","#2b2bb5","black"]},"legend":null},"shape":{"field":"d","type":"nominal","scale":{"domain":["up","down","downlong"],"range":["M0,1L0,-0.3M-0.45,-0.2L0,-1L0.45,-0.2Z","M0,-1L0,0.3M-0.45,0.2L0,1L0.45,0.2Z","M0,-12L0,0.3M-0.45,0.2L0,1L0.45,0.2Z"]},"legend":null}}},
  {"data":{"name":"notes"},"transform":[{"filter":"datum.p=='d'&&datum.k=='lab'"}],"mark":{"type":"text","text":"T","fontSize":14,"align":"center","baseline":"middle"},"encoding":{"y":{"field":"v","type":"quantitative","scale":{"domain":[-1,105],"nice":false,"zero":false},"axis":null},"color":{"field":"s","type":"nominal","scale":{"domain":["DSC","HM","label"],"range":["black","#2b2bb5","black"]},"legend":null}}},
  {"data":{"name":"notes"},"transform":[{"filter":"datum.p=='d'&&datum.k=='lab'"}],"mark":{"type":"text","fontSize":9.5,"align":"left","baseline":"middle","dx":4.5,"dy":6},"encoding":{"y":{"field":"v","type":"quantitative","scale":{"domain":[-1,105],"nice":false,"zero":false},"axis":null},"text":{"field":"sub"},"color":{"field":"s","type":"nominal","scale":{"domain":["DSC","HM","label"],"range":["black","#2b2bb5","black"]},"legend":null}}},
  {"data":{"name":"notes"},"transform":[{"filter":"datum.p=='d'&&datum.k=='right'"}],"mark":{"type":"text","fontSize":11,"align":"right","baseline":"middle"},"encoding":{"y":{"field":"v","type":"quantitative","scale":{"domain":[-1,105],"nice":false,"zero":false},"axis":null},"text":{"field":"txt"},"color":{"field":"s","type":"nominal","scale":{"domain":["DSC","HM","label"],"range":["black","#2b2bb5","black"]},"legend":null}}}
 ],
 "resolve":{"axis":{"y":"independent"}}},
{"title":{"text":"(h)","anchor":"start","frame":"bounds","fontSize":16,"fontWeight":"normal","offset":1,"dx":-4},"width":268,"height":206,
 "encoding":{"x":{"field":"t","type":"quantitative","scale":{"domain":[450,1200],"nice":false},"axis":{"values":[500,600,700,800,900,1000,1100,1200],"title":"Temperature (°C)","titlePadding":2}}},
 "layer":[
  {"data":{"name":"curves"},"transform":[{"filter":"datum.p=='h'&&datum.s=='DSC'"}],"mark":{"type":"line","color":"black","strokeWidth":1.2,"clip":true,"interpolate":"monotone"},"encoding":{"y":{"field":"v","type":"quantitative","scale":{"domain":[-1,105],"nice":false,"zero":false},"axis":{"orient":"left","labels":false,"ticks":false,"titlePadding":8,"title":"⟵ endotherm\u00a0\u00a0\u00a0\u00a0\u00a0\u00a0\u00a0\u00a0\u00a0exotherm ⟶\u00a0\u00a0\u00a0\u00a0\u00a0\u00a0"}}}},
  {"data":{"name":"curves"},"transform":[{"filter":"datum.p=='h'&&datum.s=='HM'"}],"mark":{"type":"line","color":"#ff2020","strokeWidth":1.2,"clip":true,"interpolate":"monotone"},"encoding":{"y":{"field":"v","type":"quantitative","scale":{"domain":[-1,105],"nice":false,"zero":false},"axis":{"orient":"right","values":[0,20,40,60,80,100],"title":"Sample height (%)","domainColor":"#ff2020","tickColor":"#ff2020","labelColor":"#ff2020","titleColor":"#ff2020","titlePadding":4}}}},
  {"data":{"name":"notes"},"transform":[{"filter":"datum.p=='h'&&datum.k=='arrow'"}],"mark":{"type":"point","filled":false,"size":36,"strokeWidth":1,"opacity":1},"encoding":{"y":{"field":"v","type":"quantitative","scale":{"domain":[-1,105],"nice":false,"zero":false},"axis":null},"color":{"field":"s","type":"nominal","scale":{"domain":["DSC","HM","label"],"range":["black","#ff2020","black"]},"legend":null},"shape":{"field":"d","type":"nominal","scale":{"domain":["up","down","downlong"],"range":["M0,1L0,-0.3M-0.45,-0.2L0,-1L0.45,-0.2Z","M0,-1L0,0.3M-0.45,0.2L0,1L0.45,0.2Z","M0,-12L0,0.3M-0.45,0.2L0,1L0.45,0.2Z"]},"legend":null}}},
  {"data":{"name":"notes"},"transform":[{"filter":"datum.p=='h'&&datum.k=='lab'"}],"mark":{"type":"text","text":"T","fontSize":14,"align":"center","baseline":"middle"},"encoding":{"y":{"field":"v","type":"quantitative","scale":{"domain":[-1,105],"nice":false,"zero":false},"axis":null},"color":{"field":"s","type":"nominal","scale":{"domain":["DSC","HM","label"],"range":["black","#ff2020","black"]},"legend":null}}},
  {"data":{"name":"notes"},"transform":[{"filter":"datum.p=='h'&&datum.k=='lab'"}],"mark":{"type":"text","fontSize":9.5,"align":"left","baseline":"middle","dx":4.5,"dy":6},"encoding":{"y":{"field":"v","type":"quantitative","scale":{"domain":[-1,105],"nice":false,"zero":false},"axis":null},"text":{"field":"sub"},"color":{"field":"s","type":"nominal","scale":{"domain":["DSC","HM","label"],"range":["black","#ff2020","black"]},"legend":null}}},
  {"data":{"name":"notes"},"transform":[{"filter":"datum.p=='h'&&datum.k=='right'"}],"mark":{"type":"text","fontSize":11,"align":"right","baseline":"middle"},"encoding":{"y":{"field":"v","type":"quantitative","scale":{"domain":[-1,105],"nice":false,"zero":false},"axis":null},"text":{"field":"txt"},"color":{"field":"s","type":"nominal","scale":{"domain":["DSC","HM","label"],"range":["black","#ff2020","black"]},"legend":null}}}
 ],
 "resolve":{"axis":{"y":"independent"}}}
]
}
